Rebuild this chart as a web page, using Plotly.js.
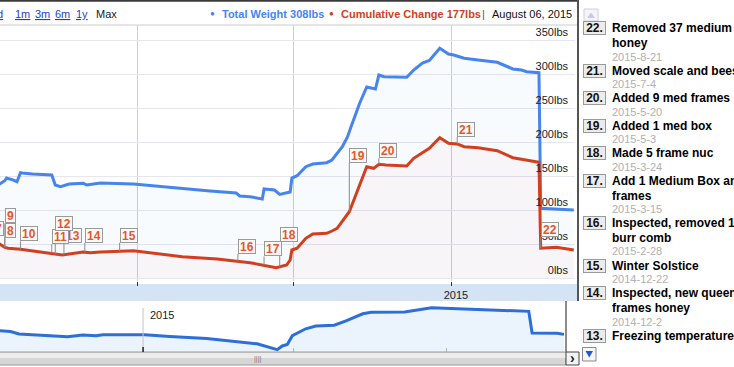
<!DOCTYPE html>
<html><head><meta charset="utf-8">
<script src="https://cdn.plot.ly/plotly-3.0.1.min.js"></script>
<style>
html,body{margin:0;padding:0;overflow:hidden;background:#fff;width:734px;height:367px}
#chart{position:absolute;left:-30px;top:0;width:764px;height:367px}
</style>
</head><body><div id="chart"></div>
<script>
// ---------- data ----------
const weightDates = ['2014-10-07','2014-10-14','2014-10-17','2014-10-18','2014-10-22','2014-10-24','2014-10-26','2014-10-27','2014-11-02','2014-11-13','2014-11-15','2014-11-18','2014-11-23','2014-12-01','2014-12-03','2014-12-11','2014-12-30','2015-01-08','2015-01-20','2015-01-27','2015-02-12','2015-02-27','2015-03-01','2015-03-07','2015-03-14','2015-03-15','2015-03-21','2015-03-24','2015-03-28','2015-03-30','2015-03-31','2015-04-03','2015-04-08','2015-04-12','2015-04-20','2015-04-23','2015-04-29','2015-05-02','2015-05-04','2015-05-09','2015-05-13','2015-05-18','2015-05-20','2015-05-23','2015-06-05','2015-06-09','2015-06-14','2015-06-18','2015-06-24','2015-06-29','2015-07-02','2015-07-08','2015-07-16','2015-07-27','2015-08-05','2015-08-10','2015-08-13','2015-08-20','2015-08-21','2015-08-30','2015-09-09'];
const weightValues = [137,138.2,143,147,144,141.6,154.9,154.4,153,151.5,136.8,134.3,138.2,139.3,136.8,139.7,138.2,136,133.8,132.4,127.9,125,120.6,119.6,116.2,130.9,129.4,123,124.6,126.5,147,150.4,163.7,167.6,169.6,173.5,193,207.8,222.5,257.4,280.9,277.9,298.5,296,295.1,305.9,316.2,319.9,337.8,329.4,327.9,323.1,320.6,317.2,307.4,305.9,303.4,301.9,102.5,101.5,100];

const changeDates = ['2014-10-07','2014-10-14','2014-10-17','2014-10-19','2014-10-26','2014-11-02','2014-11-13','2014-11-19','2014-11-23','2014-12-01','2014-12-05','2014-12-11','2014-12-30','2015-01-08','2015-01-27','2015-02-16','2015-03-07','2015-03-22','2015-03-25','2015-03-28','2015-03-30','2015-03-31','2015-04-03','2015-04-08','2015-04-12','2015-04-20','2015-04-23','2015-04-26','2015-05-03','2015-05-07','2015-05-12','2015-05-13','2015-05-17','2015-05-20','2015-05-24','2015-06-05','2015-06-09','2015-06-14','2015-06-18','2015-06-24','2015-06-29','2015-07-04','2015-07-08','2015-07-16','2015-07-27','2015-08-05','2015-08-12','2015-08-20','2015-08-21','2015-08-30','2015-09-09'];
const changeValues = [51,50,45.1,43.7,42.2,39.7,36.3,33.8,35.3,38.2,37.2,38.2,40.1,37.2,31.3,27.9,22.5,15.1,16.6,19.1,26.5,41.2,43.7,58.4,64.7,65.7,69.1,73.1,97.5,124.6,156.3,163.7,161.3,167.2,166.2,164.7,176,184.3,190.7,206.3,198.1,197.1,193.1,191.6,187.2,176.9,173.5,170.1,43.7,45.1,41.2];

const navDates = ['2014-10-07','2014-10-14','2014-10-19','2014-11-03','2014-11-17','2014-11-26','2014-12-04','2014-12-08','2015-01-02','2015-01-17','2015-02-08','2015-03-10','2015-03-22','2015-03-25','2015-03-28','2015-03-31','2015-04-03','2015-04-08','2015-04-14','2015-04-25','2015-05-02','2015-05-12','2015-05-17','2015-06-06','2015-06-22','2015-07-22','2015-08-19','2015-08-21','2015-09-05','2015-09-09'];
const navValues = [217,211.6,198.8,189.7,183.9,193.5,189.7,195,195,186,174.9,146.7,115.3,135,143,189.7,204,226.4,241.3,245,267.9,306.2,313.7,315.8,337.6,328.6,319,204,202.5,196.7];

const eventNumbers = [7,8,9,10,11,12,13,14,15,16,17,18,19,20,21,22];
const eventDates = ['2014-10-10','2014-10-17','2014-10-17','2014-10-26','2014-11-13','2014-11-15','2014-11-20','2014-12-02','2014-12-22','2015-02-28','2015-03-15','2015-03-24','2015-05-03','2015-05-20','2015-07-04','2015-08-21'];

const listNumbers = [22,21,20,19,18,17,16,15,14,13];
const listTitles = [['Removed 37 medium frames of','honey'],['Moved scale and bees'],['Added 9 med frames'],['Added 1 med box'],['Made 5 frame nuc'],['Add 1 Medium Box and 9','frames'],['Inspected, removed 1 frame','burr comb'],['Winter Solstice'],['Inspected, new queen,','frames honey'],['Freezing temperatures']];
const listDates = ['2015-8-21','2015-7-4','2015-5-20','2015-5-3','2015-3-24','2015-3-15','2015-2-28','2014-12-22','2014-12-2',''];

const yTickVals = [0,50,100,150,200,250,300,350];
const mainTickVals = ['2015-01-01','2015-04-01','2015-07-01'];
const mainTickText = ['','','2015'];
const navTickVals = ['2015-01-01','2015-04-01','2015-07-01'];
const navTickText = ['2015'];
const rangeButtons = ['5d','1m','3m','6m','1y','Max'];
const seriesNames = ['Total Weight','Cumulative Change'];
const seriesReadout = [308,177];
const readoutDate = 'August 06, 2015';

// ---------- styling / layout helpers ----------
const OFF = 30, PW = 605, H = 367;
const px = x => (x + OFF) / PW;
const py = y => 1 - y / H;
const FONT = 'Arial, "Liberation Sans", sans-serif';
const BLUE = '#4684ee', RED = '#d23f1e', FLAG = '#e4572e';
const yRange = [-3.68, 372.06];
const lbsPerPx = (yRange[1] - yRange[0]) / 255.5;
const flagLift = [8, 9.5, 24, 8, 9, 23, 12, 9.5, 8.5, 7.5, 9, 25, 49, 6, 7, 11];
const flagDrawOrder = [7,8,9,10,13,11,12,14,15,16,17,18,19,20,21,22];

function tms(d){ return new Date(d + 'T00:00:00Z').getTime(); }
function interp(ds, vs, d){
  const x = tms(d);
  for (let i = 0; i < ds.length - 1; i++){
    const a = tms(ds[i]), b = tms(ds[i+1]);
    if (x >= a && x <= b) return b === a ? vs[i+1] : vs[i] + (vs[i+1]-vs[i])*(x-a)/(b-a);
  }
  return vs[vs.length-1];
}

const traces = [
  {x: weightDates, y: weightValues, type:'scatter', mode:'lines', xaxis:'x', yaxis:'y',
   line:{color:BLUE, width:3}, fill:'tozeroy', fillcolor:'rgba(70,132,238,0.035)', hoverinfo:'skip'},
  {x: changeDates, y: changeValues, type:'scatter', mode:'lines', xaxis:'x', yaxis:'y',
   line:{color:RED, width:3}, fill:'tozeroy', fillcolor:'rgba(220,57,18,0.03)', hoverinfo:'skip'},
  {x: navDates, y: navValues, type:'scatter', mode:'lines', xaxis:'x2', yaxis:'y2',
   line:{color:'#2c6fd8', width:3}, fill:'tozeroy', fillcolor:'#ebf3fd', hoverinfo:'skip'}
];

const shapes = [];
const annotations = [];
const pline = (x0,y0,x1,y1,color,width,layer) => shapes.push({type:'line', xref:'paper', yref:'paper', x0:px(x0), y0:py(y0), x1:px(x1), y1:py(y1), line:{color:color, width:width}, layer:layer||'above'});
const prect = (x0,y0,x1,y1,fill,border,layer) => shapes.push({type:'rect', xref:'paper', yref:'paper', x0:px(x0), y0:py(y0), x1:px(x1), y1:py(y1), fillcolor:fill, line:{color:border||fill, width:border?1:0}, layer:layer||'above'});
const ppath = (pts, fill) => shapes.push({type:'path', xref:'paper', yref:'paper', path: 'M' + pts.map(p => px(p[0]) + ',' + py(p[1])).join('L') + 'Z', fillcolor:fill, line:{width:0}});
const ptext = (x,y,text,size,color,anchor,extra) => annotations.push(Object.assign({xref:'paper', yref:'paper', x:px(x), y:py(y), text:text, showarrow:false, xanchor:anchor||'left', yanchor:'middle', font:{family:FONT, size:size, color:color}}, extra||{}));

// frame lines
pline(-30, 0.8, 578, 0.8, '#3a3a3a', 2);
pline(-30, 25, 577, 25, '#cccccc', 1);
pline(578, 0, 578, 301, '#555', 2);
prect(-30, 284, 578, 301, '#d5e4f5', null, 'below');
pline(566, 301, 566, 352, '#666', 1.5);
// scrollbar
prect(-30, 352, 566, 365, '#d6d6d6', '#9a9a9a');
prect(-30, 353, 566, 358, '#ececec');
ptext(257, 358.5, '||||', 7, '#777', 'center');
prect(566, 352, 579, 365, '#f3f3f3', '#444');
ptext(572.6, 358.2, '<b>›</b>', 14, '#222', 'center');
// nav jan-1 grid line + tick
shapes.push({type:'line', xref:'x2', yref:'paper', x0:navTickVals[0], x1:navTickVals[0], y0:py(352), y1:py(308), line:{color:'#c4c4c4', width:1}});
shapes.push({type:'line', xref:'x2', yref:'paper', x0:navTickVals[0], x1:navTickVals[0], y0:py(352), y1:py(347), line:{color:'#222', width:1.5}});
annotations.push({xref:'x2', yref:'paper', x:navTickVals[0], y:py(314.5), xshift:5, xanchor:'left', yanchor:'middle', text:navTickText[0], showarrow:false, font:{family:FONT, size:11, color:'#222'}});

// top bar: range buttons
const btnX = [4.5, 13, 33, 53, 74, 94];
rangeButtons.forEach((b,i) => {
  const isLast = i === rangeButtons.length - 1;
  ptext(btnX[i], 13.5, isLast ? b : '<u>' + b + '</u>', 11, isLast ? '#222' : '#1c3fc6', i === 0 ? 'right' : 'left');
});
// top bar: readout legend
ptext(213, 13.5, '●', 8, BLUE, 'center');
ptext(219.5, 13.5, '<b>' + seriesNames[0] + ' ' + seriesReadout[0] + 'lbs</b>', 11, BLUE);
ptext(331, 13.5, '●', 8, RED, 'center');
ptext(338.5, 13.5, '<b>' + seriesNames[1] + ' ' + seriesReadout[1] + 'lbs</b>', 11, RED);
ptext(483, 13.5, '|', 11, '#555', 'center');
ptext(489.5, 13.5, readoutDate, 11, '#111');

// event flags on the main chart
const poleShapes = [], flagAnns = {};
eventNumbers.forEach((n,i) => {
  const d = eventDates[i];
  const v = interp(changeDates, changeValues, d);
  const top = v + flagLift[i] * lbsPerPx;
  poleShapes.push({type:'line', xref:'x', yref:'y', x0:d, x1:d, y0:v, y1:top, line:{color:'#8a8a8a', width:1}});
  flagAnns[n] = {xref:'x', yref:'y', x:d, y:top, xanchor:'left', yanchor:'bottom', showarrow:false,
    text:'<b>' + n + '</b>', font:{family:FONT, size:12, color:FLAG}, bgcolor:'#f8f8f8',
    bordercolor:'#9a9a9a', borderwidth:1, borderpad:1, height:11};
});
shapes.push(...poleShapes);
flagDrawOrder.forEach(n => annotations.push(flagAnns[n]));

// right-hand annotation list
prect(584, 9, 598, 21, '#f5f5f8', '#cfcfd8');
ppath([[587,18],[595,18],[591,12.5]], '#c3cbe9');
let yCur = 28;
listNumbers.forEach((n,i) => {
  ptext(595, yCur, '<b>' + n + '.</b>', 12, '#111', 'center', {bgcolor:'#ececec', bordercolor:'#9a9a9a', borderwidth:1, borderpad:1, width:19, height:10});
  listTitles[i].forEach((line,j) => {
    if (j > 0) yCur += 15;
    ptext(609.5, yCur, '<b>' + line + '</b>', 12, '#000');
  });
  yCur += 13.5;
  if (listDates[i]) ptext(609.5, yCur, listDates[i], 11, '#b0b0b0');
  yCur += 14;
});
prect(582.5, 347.5, 596, 361, '#f6f6f6', '#8a8a8a');
ppath([[585.5,351],[593,351],[589.25,357.5]], '#1f58d6');

const layout = {
  width: 764, height: 367,
  margin: {l:0, r:159, t:0, b:0},
  paper_bgcolor: '#ffffff', plot_bgcolor: '#ffffff',
  showlegend: false,
  font: {family: FONT, size: 11, color: '#222'},
  xaxis: {type:'date', range:['2014-09-27','2015-09-09 17:00'], domain:[0,1], anchor:'y',
    tickvals: mainTickVals, ticktext: mainTickText, ticks:'outside', ticklen:4, tickcolor:'#333',
    showgrid:true, gridcolor:'#cfcfcf', zeroline:false, showline:false, fixedrange:true,
    tickfont:{family:FONT, size:11, color:'#222'}, ticklabelshift:4},
  yaxis: {range: yRange, domain:[1-280.5/367, 1-25/367], anchor:'x', side:'right',
    tickvals: yTickVals, ticktext: yTickVals.map(v => v + 'lbs'), ticklabelposition:'inside',
    ticklabeloverflow:'allow',
    ticks:'', showgrid:true, gridcolor:'#e6e6ef', zeroline:false, showline:false, fixedrange:true,
    tickfont:{family:FONT, size:11, color:'#222'}, ticklabelshift:-8, ticklabelstandoff:4},
  xaxis2: {type:'date', range:['2014-09-19 19:00','2015-09-10 05:00'], domain:[0, 596/605], anchor:'y2',
    tickvals: navTickVals, ticks:'inside', ticklen:4, tickcolor:'#b5b5b5', showticklabels:false,
    showgrid:false, zeroline:false, showline:false, fixedrange:true},
  yaxis2: {range:[103,374], domain:[1-352/367, 1-301/367], anchor:'x2', showgrid:false, zeroline:false,
    showticklabels:false, ticks:'', showline:false, fixedrange:true},
  shapes: shapes,
  annotations: annotations
};

Plotly.newPlot('chart', traces, layout, {displayModeBar:false, staticPlot:true});
</script>
</body></html>
